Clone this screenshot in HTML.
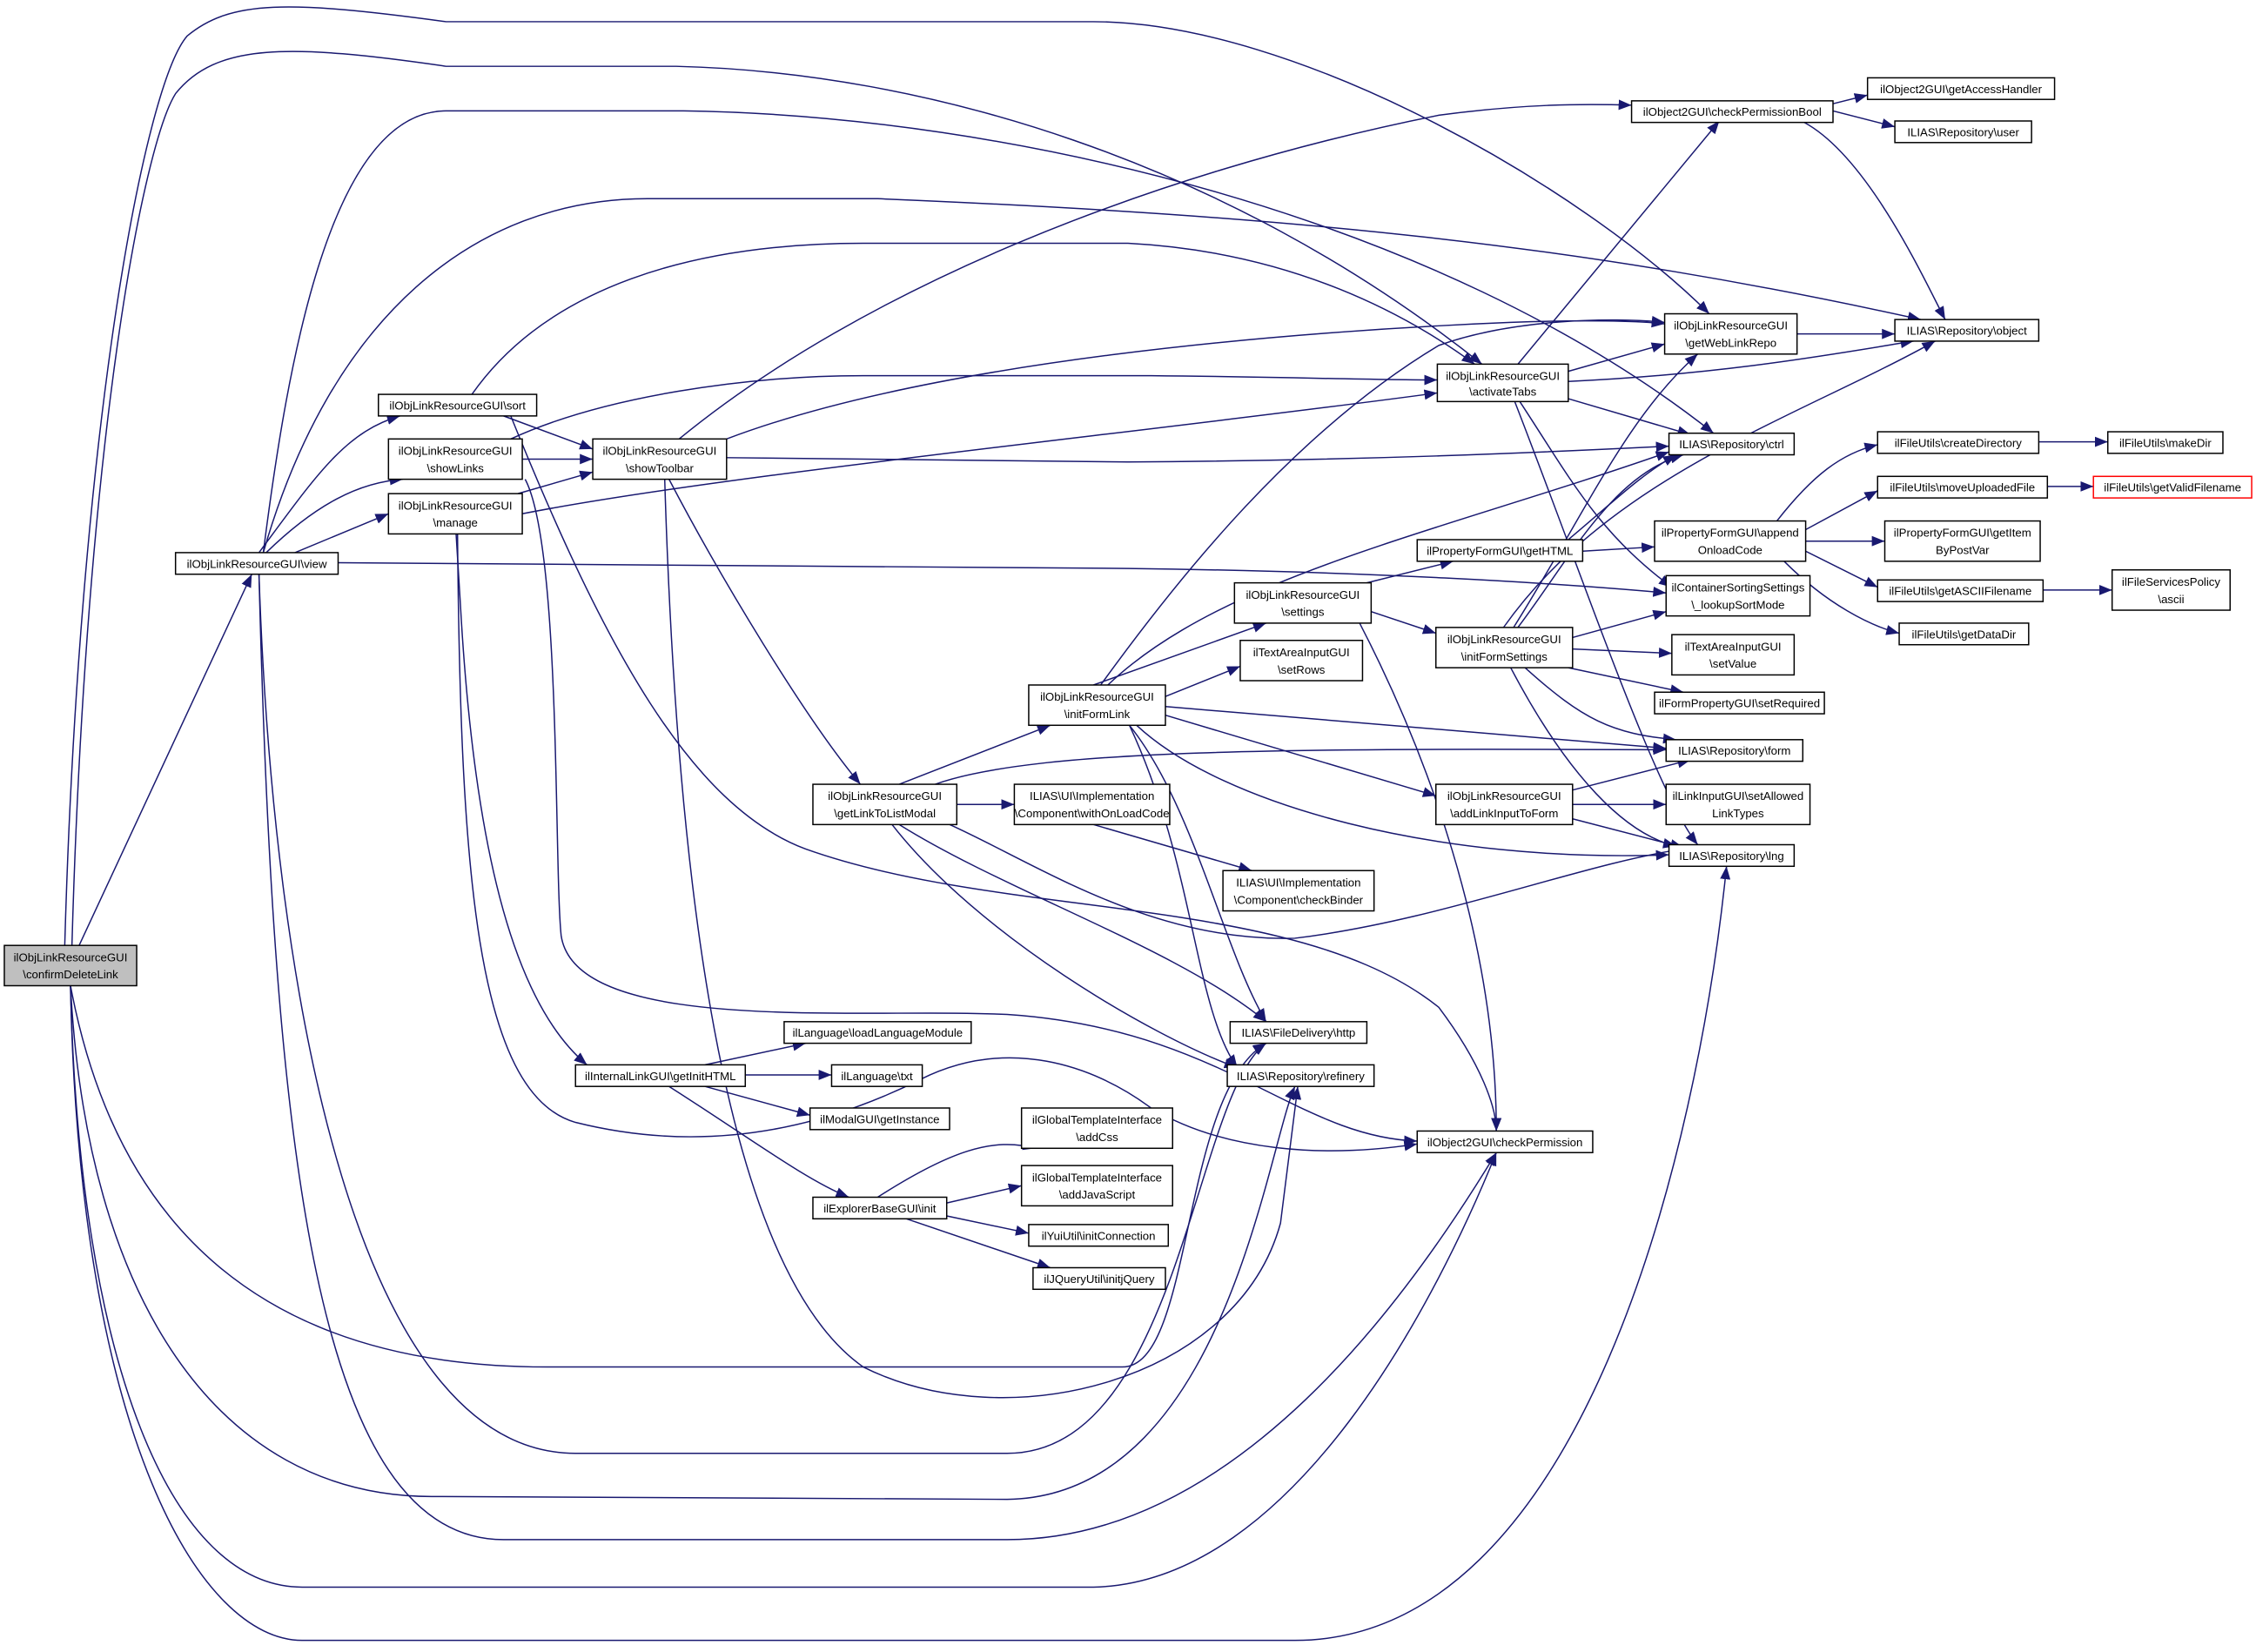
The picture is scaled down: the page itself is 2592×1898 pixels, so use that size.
<!DOCTYPE html>
<html><head><meta charset="utf-8"><style>
html,body{margin:0;padding:0;background:#fff}
svg{display:block}
text{font-family:"Liberation Sans",sans-serif;font-size:8px;fill:#000;text-anchor:middle}
.e{fill:none;stroke:#191970;stroke-width:0.9}
rect{fill:#fff;stroke:#000;stroke-width:0.9}
</style></head><body>
<svg width="2592" height="1898" viewBox="0 0 1568 1148" xmlns="http://www.w3.org/2000/svg">
<defs><marker id="a" viewBox="0 0 10 10" refX="10" refY="5" markerWidth="9" markerHeight="9" markerUnits="userSpaceOnUse" orient="auto"><path d="M0,1 L10,5 L0,9 z" fill="#191970"/></marker></defs>
<g marker-end="url(#a)">
<path class="e" d="M55,657 L175,399"/>
<path class="e" d="M45,657 C55,300 100,60 130,25 C160,0 200,0 310,15 L760,15 C900,15 1100,130 1188,218"/>
<path class="e" d="M50,657 C60,300 100,100 122,65 C150,30 200,30 310,46 L470,46 C640,50 850,110 1030,253"/>
<path class="e" d="M49,685 C80,850 180,950 380,950 L780,950 C830,950 820,760 880,725"/>
<path class="e" d="M49,685 C60,900 150,1040 300,1040 L700,1042 C850,1040 880,800 900,755"/>
<path class="e" d="M49,685 C55,950 120,1103 210,1103 L760,1103 C900,1100 1000,900 1040,801"/>
<path class="e" d="M49,685 C55,1000 140,1140 210,1140 L900,1140 C1100,1140 1180,800 1200,602"/>
<path class="e" d="M180,384 C220,330 240,300 278,289"/>
<path class="e" d="M185,384 C220,350 250,335 280,333"/>
<path class="e" d="M205,384 L270,357"/>
<path class="e" d="M183,384 C200,250 230,77 310,77 L475,77 C700,80 1000,150 1191,301"/>
<path class="e" d="M183,384 C230,220 330,138 450,138 L610,138 C900,150 1100,170 1335,222"/>
<path class="e" d="M235,391 L784,395 C950,397 1080,405 1158,412"/>
<path class="e" d="M180,399 C190,700 250,1010 400,1010 L700,1010 C820,1010 830,760 880,725"/>
<path class="e" d="M180,399 C190,800 220,1070 350,1070 L700,1070 C860,1070 980,900 1040,801"/>
<path class="e" d="M350,289 L412,312"/>
<path class="e" d="M328,274 C380,200 480,169 600,169 L784,169 C900,175 980,220 1025,253"/>
<path class="e" d="M355,289 C420,450 480,560 560,590 C700,640 900,620 1000,700 C1030,740 1040,770 1040,786"/>
<path class="e" d="M363,319 L412,319"/>
<path class="e" d="M355,305 C420,275 520,261 600,261 L800,261 C900,262 950,264 999,264"/>
<path class="e" d="M505,305 C650,250 900,230 1050,224 C1100,222 1140,223 1157,225"/>
<path class="e" d="M365,333 C390,380 385,600 390,650 C400,720 600,700 700,705 C850,715 900,790 985,793"/>
<path class="e" d="M360,343 L412,328"/>
<path class="e" d="M363,357 C500,330 800,300 999,273"/>
<path class="e" d="M317,371 L320,420 C330,600 360,700 408,740"/>
<path class="e" d="M318,371 C320,600 330,760 400,780 C480,800 560,790 640,750 C700,720 760,740 800,770 C850,800 920,805 985,795"/>
<path class="e" d="M472,305 C600,200 800,120 1000,80 C1060,72 1100,72 1134,73"/>
<path class="e" d="M505,318 L784,321 C950,320 1080,314 1160,310"/>
<path class="e" d="M465,333 C500,400 560,500 598,545"/>
<path class="e" d="M462,333 C470,600 500,880 600,950 C700,1000 860,960 890,850 L902,755"/>
<path class="e" d="M625,545 L730,504"/>
<path class="e" d="M665,559 L705,559"/>
<path class="e" d="M650,545 C720,520 900,520 1158,521"/>
<path class="e" d="M660,573 C720,600 800,655 900,652 C1000,640 1100,600 1170,590"/>
<path class="e" d="M625,573 C700,620 820,660 880,710"/>
<path class="e" d="M620,573 C680,650 800,720 860,742"/>
<path class="e" d="M760,573 L870,605"/>
<path class="e" d="M760,476 L880,433"/>
<path class="e" d="M810,484 L862,463"/>
<path class="e" d="M765,476 C820,400 900,300 1000,240 C1050,222 1120,220 1157,224"/>
<path class="e" d="M770,476 C850,400 1000,370 1160,314"/>
<path class="e" d="M810,491 L1158,520"/>
<path class="e" d="M810,497 L998,553"/>
<path class="e" d="M790,504 C850,560 1000,600 1160,594"/>
<path class="e" d="M785,504 C830,560 850,660 880,710"/>
<path class="e" d="M785,504 C830,600 830,700 860,742"/>
<path class="e" d="M950,405 L1010,390"/>
<path class="e" d="M953,425 L998,440"/>
<path class="e" d="M945,433 C990,520 1040,650 1040,786"/>
<path class="e" d="M1100,383 L1150,380"/>
<path class="e" d="M1090,375 C1120,350 1140,330 1165,316"/>
<path class="e" d="M1055,436 C1090,390 1120,330 1170,316"/>
<path class="e" d="M1052,436 C1100,360 1130,290 1180,246"/>
<path class="e" d="M1045,436 C1120,330 1250,290 1345,237"/>
<path class="e" d="M1093,443 L1158,425"/>
<path class="e" d="M1093,451 L1162,454"/>
<path class="e" d="M1090,464 L1170,481"/>
<path class="e" d="M1060,464 C1100,500 1120,510 1165,514"/>
<path class="e" d="M1050,464 C1090,540 1130,580 1165,588"/>
<path class="e" d="M1093,549 L1175,528"/>
<path class="e" d="M1093,559 L1158,559"/>
<path class="e" d="M1093,569 L1170,589"/>
<path class="e" d="M1055,253 L1195,84"/>
<path class="e" d="M1090,258 L1157,239"/>
<path class="e" d="M1090,265 C1200,260 1280,245 1330,237"/>
<path class="e" d="M1090,277 L1175,302"/>
<path class="e" d="M1055,277 C1090,330 1110,370 1162,408"/>
<path class="e" d="M1052,277 C1100,400 1150,550 1180,587"/>
<path class="e" d="M1274,72 L1298,66"/>
<path class="e" d="M1274,77 L1317,88"/>
<path class="e" d="M1254,85 C1300,110 1340,200 1352,222"/>
<path class="e" d="M1249,232 L1317,232"/>
<path class="e" d="M1235,362 C1260,330 1280,315 1305,309"/>
<path class="e" d="M1255,368 L1305,341"/>
<path class="e" d="M1255,376 L1310,376"/>
<path class="e" d="M1255,383 L1305,408"/>
<path class="e" d="M1240,390 C1270,420 1300,435 1320,440"/>
<path class="e" d="M1417,307 L1465,307"/>
<path class="e" d="M1423,338 L1455,338"/>
<path class="e" d="M1420,410 L1468,410"/>
<path class="e" d="M490,740 L560,725"/>
<path class="e" d="M518,747 L578,747"/>
<path class="e" d="M490,755 L563,775"/>
<path class="e" d="M465,755 C520,790 560,820 590,832"/>
<path class="e" d="M610,832 C660,800 690,790 720,798"/>
<path class="e" d="M658,836 L710,824"/>
<path class="e" d="M658,845 L715,857"/>
<path class="e" d="M630,847 L730,881"/>
</g>
<rect x="3" y="657" width="92" height="28" style="fill:#bfbfbf"/><text x="49" y="668">ilObjLinkResourceGUI</text><text x="49" y="680">\confirmDeleteLink</text>
<rect x="122" y="384" width="113" height="15"/><text x="178.5" y="394.5">ilObjLinkResourceGUI\view</text>
<rect x="263" y="274" width="110" height="15"/><text x="318" y="284.5">ilObjLinkResourceGUI\sort</text>
<rect x="270" y="305" width="93" height="28"/><text x="316.5" y="316">ilObjLinkResourceGUI</text><text x="316.5" y="328">\showLinks</text>
<rect x="270" y="343" width="93" height="28"/><text x="316.5" y="354">ilObjLinkResourceGUI</text><text x="316.5" y="366">\manage</text>
<rect x="412" y="305" width="93" height="28"/><text x="458.5" y="316">ilObjLinkResourceGUI</text><text x="458.5" y="328">\showToolbar</text>
<rect x="565" y="545" width="100" height="28"/><text x="615" y="556">ilObjLinkResourceGUI</text><text x="615" y="568">\getLinkToListModal</text>
<rect x="715" y="476" width="95" height="28"/><text x="762.5" y="487">ilObjLinkResourceGUI</text><text x="762.5" y="499">\initFormLink</text>
<rect x="705" y="545" width="108" height="28"/><text x="759" y="556">ILIAS\UI\Implementation</text><text x="759" y="568">\Component\withOnLoadCode</text>
<rect x="850" y="605" width="105" height="28"/><text x="902.5" y="616">ILIAS\UI\Implementation</text><text x="902.5" y="628">\Component\checkBinder</text>
<rect x="400" y="740" width="118" height="15"/><text x="459" y="750.5">ilInternalLinkGUI\getInitHTML</text>
<rect x="545" y="710" width="130" height="15"/><text x="610" y="720.5">ilLanguage\loadLanguageModule</text>
<rect x="578" y="740" width="63" height="15"/><text x="609.5" y="750.5">ilLanguage\txt</text>
<rect x="563" y="770" width="97" height="15"/><text x="611.5" y="780.5">ilModalGUI\getInstance</text>
<rect x="565" y="832" width="93" height="15"/><text x="611.5" y="842.5">ilExplorerBaseGUI\init</text>
<rect x="710" y="770" width="105" height="28"/><text x="762.5" y="781">ilGlobalTemplateInterface</text><text x="762.5" y="793">\addCss</text>
<rect x="710" y="810" width="105" height="28"/><text x="762.5" y="821">ilGlobalTemplateInterface</text><text x="762.5" y="833">\addJavaScript</text>
<rect x="715" y="851" width="97" height="15"/><text x="763.5" y="861.5">ilYuiUtil\initConnection</text>
<rect x="718" y="881" width="92" height="15"/><text x="764" y="891.5">ilJQueryUtil\initjQuery</text>
<rect x="855" y="710" width="95" height="15"/><text x="902.5" y="720.5">ILIAS\FileDelivery\http</text>
<rect x="853" y="740" width="102" height="15"/><text x="904" y="750.5">ILIAS\Repository\refinery</text>
<rect x="985" y="786" width="122" height="15"/><text x="1046" y="796.5">ilObject2GUI\checkPermission</text>
<rect x="858" y="405" width="95" height="28"/><text x="905.5" y="416">ilObjLinkResourceGUI</text><text x="905.5" y="428">\settings</text>
<rect x="862" y="445" width="85" height="28"/><text x="904.5" y="456">ilTextAreaInputGUI</text><text x="904.5" y="468">\setRows</text>
<rect x="985" y="375" width="115" height="15"/><text x="1042.5" y="385.5">ilPropertyFormGUI\getHTML</text>
<rect x="998" y="436" width="95" height="28"/><text x="1045.5" y="447">ilObjLinkResourceGUI</text><text x="1045.5" y="459">\initFormSettings</text>
<rect x="998" y="545" width="95" height="28"/><text x="1045.5" y="556">ilObjLinkResourceGUI</text><text x="1045.5" y="568">\addLinkInputToForm</text>
<rect x="999" y="253" width="91" height="26"/><text x="1044.5" y="264">ilObjLinkResourceGUI</text><text x="1044.5" y="275">\activateTabs</text>
<rect x="1134" y="70" width="140" height="15"/><text x="1204" y="80.5">ilObject2GUI\checkPermissionBool</text>
<rect x="1298" y="54" width="130" height="15"/><text x="1363" y="64.5">ilObject2GUI\getAccessHandler</text>
<rect x="1317" y="84" width="95" height="15"/><text x="1364.5" y="94.5">ILIAS\Repository\user</text>
<rect x="1157" y="218" width="92" height="28"/><text x="1203" y="229">ilObjLinkResourceGUI</text><text x="1203" y="241">\getWebLinkRepo</text>
<rect x="1317" y="222" width="100" height="15"/><text x="1367" y="232.5">ILIAS\Repository\object</text>
<rect x="1160" y="301" width="87" height="15"/><text x="1203.5" y="311.5">ILIAS\Repository\ctrl</text>
<rect x="1150" y="362" width="105" height="28"/><text x="1202.5" y="373">ilPropertyFormGUI\append</text><text x="1202.5" y="385">OnloadCode</text>
<rect x="1158" y="400" width="100" height="28"/><text x="1208" y="411">ilContainerSortingSettings</text><text x="1208" y="423">\_lookupSortMode</text>
<rect x="1162" y="441" width="85" height="28"/><text x="1204.5" y="452">ilTextAreaInputGUI</text><text x="1204.5" y="464">\setValue</text>
<rect x="1150" y="481" width="118" height="15"/><text x="1209" y="491.5">ilFormPropertyGUI\setRequired</text>
<rect x="1158" y="514" width="95" height="15"/><text x="1205.5" y="524.5">ILIAS\Repository\form</text>
<rect x="1158" y="545" width="100" height="28"/><text x="1208" y="556">ilLinkInputGUI\setAllowed</text><text x="1208" y="568">LinkTypes</text>
<rect x="1160" y="587" width="87" height="15"/><text x="1203.5" y="597.5">ILIAS\Repository\lng</text>
<rect x="1305" y="300" width="112" height="15"/><text x="1361" y="310.5">ilFileUtils\createDirectory</text>
<rect x="1465" y="300" width="80" height="15"/><text x="1505" y="310.5">ilFileUtils\makeDir</text>
<rect x="1305" y="331" width="118" height="15"/><text x="1364" y="341.5">ilFileUtils\moveUploadedFile</text>
<rect x="1455" y="331" width="110" height="15" style="stroke:#ff0000"/><text x="1510" y="341.5">ilFileUtils\getValidFilename</text>
<rect x="1310" y="362" width="108" height="28"/><text x="1364" y="373">ilPropertyFormGUI\getItem</text><text x="1364" y="385">ByPostVar</text>
<rect x="1305" y="403" width="115" height="15"/><text x="1362.5" y="413.5">ilFileUtils\getASCIIFilename</text>
<rect x="1468" y="396" width="82" height="28"/><text x="1509" y="407">ilFileServicesPolicy</text><text x="1509" y="419">\ascii</text>
<rect x="1320" y="433" width="90" height="15"/><text x="1365" y="443.5">ilFileUtils\getDataDir</text>
</svg>
</body></html>
